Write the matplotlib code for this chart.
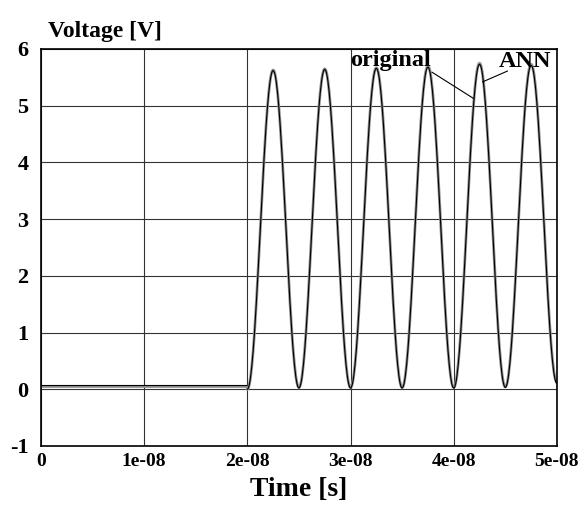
import numpy as np
from matplotlib import pyplot as plt

plt.rcParams['axes.unicode_minus'] = False

# time axis ticks and labels
x_ticks = [0, 1e-8, 2e-8, 3e-8, 4e-8, 5e-8]
x_labels = ["0", "1e-08", "2e-08", "3e-08", "4e-08", "5e-08"]
y_ticks = [-1, 0, 1, 2, 3, 4, 5, 6]

# flat part, then extrema of the oscillation
t_flat = [0, 2e-8]
orig_flat = [0.07, 0.07]
ann_flat = [0.06, 0.06]

t_extrema = [2.0e-8, 2.25e-8, 2.5e-8, 2.75e-8, 3.0e-8, 3.25e-8, 3.5e-8,
             3.75e-8, 4.0e-8, 4.25e-8, 4.5e-8, 4.75e-8, 5.0e-8]
orig_extrema = [0.0, 5.62, 0.02, 5.64, 0.02, 5.66, 0.02, 5.68, 0.02, 5.73, 0.03, 5.71, 0.10]
ann_extrema = [0.0, 5.63, 0.03, 5.65, 0.03, 5.67, 0.03, 5.70, 0.03, 5.75, 0.04, 5.73, 0.12]


def smooth_between(tk, vk, n=40):
    # half cosine between neighbouring extrema
    ts, vs = [], []
    for i in range(len(tk) - 1):
        s = np.linspace(0, 1, n, endpoint=False)
        ts.extend(tk[i] + (tk[i + 1] - tk[i]) * s)
        vs.extend(vk[i] + (vk[i + 1] - vk[i]) * (1 - np.cos(np.pi * s)) / 2)
    ts.append(tk[-1])
    vs.append(vk[-1])
    return np.array(ts), np.array(vs)


t_o, v_o = smooth_between(t_extrema, orig_extrema)
t_a, v_a = smooth_between(t_extrema, ann_extrema)

serif = 'Liberation Serif'

fig = plt.figure(figsize=(5.85, 5.05), dpi=100)
ax = fig.add_axes([0.070, 0.117, 0.882, 0.786])

ax.plot(t_flat, ann_flat, color='#909090', linewidth=2.0)
ax.plot(t_flat, orig_flat, color='black', linewidth=0.8)
ax.plot(t_a, v_a, color='#909090', linewidth=2.0)
ax.plot(t_o, v_o, color='black', linewidth=0.8)

ax.set_xlim(0, 5e-8)
ax.set_ylim(-1, 6)
ax.set_xticks(x_ticks)
ax.set_xticklabels(x_labels)
ax.set_yticks(y_ticks)
ax.tick_params(length=0)
ax.tick_params(axis='x', pad=5)
ax.tick_params(axis='y', pad=9)
for lab in ax.get_xticklabels():
    lab.set_fontfamily(serif)
    lab.set_fontweight('bold')
    lab.set_fontsize(14)
for lab in ax.get_yticklabels():
    lab.set_fontfamily(serif)
    lab.set_fontweight('bold')
    lab.set_fontsize(16)
ax.grid(True, color='#333333', linewidth=0.8)
for sp in ax.spines.values():
    sp.set_linewidth(1.2)
    sp.set_color('black')

fig.text(0.511, 0.017, "Time [s]", family=serif, fontweight='bold',
         fontsize=20, ha='center', va='baseline')
fig.text(0.082, 0.927, "Voltage [V]", family=serif, fontweight='bold',
         fontsize=17, ha='left', va='baseline')

# labels with pointer lines
ax.text(3.39e-8, 5.70, "original", family=serif, fontweight='bold',
        fontsize=17.5, ha='center', va='baseline')
ax.plot([3.79e-8, 4.19e-8], [5.59, 5.13], color='black', linewidth=0.8)
ax.text(4.69e-8, 5.68, "ANN", family=serif, fontweight='bold',
        fontsize=17.5, ha='center', va='baseline')
ax.plot([4.52e-8, 4.28e-8], [5.61, 5.42], color='black', linewidth=0.8)

fig.savefig('out.png', dpi=100)
